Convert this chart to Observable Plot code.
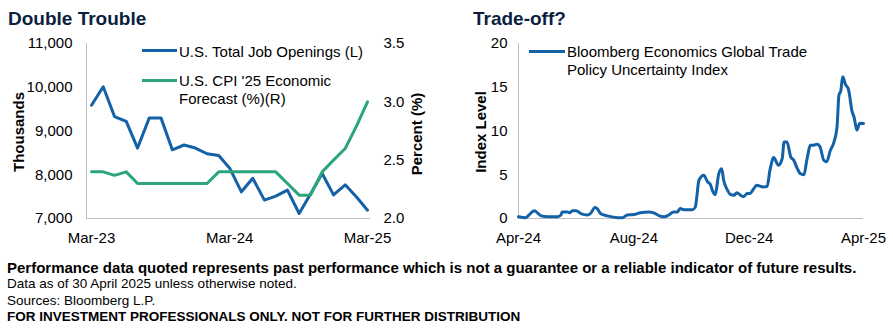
<!DOCTYPE html>
<html><head><meta charset="utf-8">
<script src="https://cdn.jsdelivr.net/npm/d3@7"></script>
<script src="https://cdn.jsdelivr.net/npm/@observablehq/plot@0.6"></script>
<style>
body{margin:0;background:#fff;}
#wrap{position:relative;width:893px;height:329px;overflow:hidden;font-family:"Liberation Sans",Arial,sans-serif;color:#000;background:#fff;}
.abs{position:absolute;white-space:nowrap;}
.title{font-size:19px;line-height:19px;font-weight:bold;color:#0c1f3f;}
.leg{font-size:15px;line-height:18px;}
.sw{position:absolute;height:3px;}
.foot{font-size:13.5px;line-height:16px;}
.chart{position:absolute;}
</style></head><body>
<div id="wrap">
  <div class="abs title" style="left:8px;top:9px;">Double Trouble</div>
  <div class="abs title" style="left:473px;top:9px;">Trade-off?</div>
  <div id="left" class="chart" style="left:0;top:30px;"></div>
  <div id="right" class="chart" style="left:440px;top:30px;"></div>
  <div class="sw" id="sw1" style="left:142px;top:48.5px;width:35px;"></div>
  <div class="abs leg" id="lg1" style="left:179px;top:43px;"></div>
  <div class="sw" id="sw2" style="left:142px;top:78.5px;width:35px;"></div>
  <div class="abs leg" id="lg2" style="left:179px;top:72px;"></div>
  <div class="sw" id="sw3" style="left:529px;top:50.2px;width:36px;"></div>
  <div class="abs leg" id="lg3" style="left:567px;top:42.5px;"></div>
  <div class="abs foot" style="left:7px;top:260px;font-weight:bold;font-size:15px;">Performance data quoted represents past performance which is not a guarantee or a reliable indicator of future results.</div>
  <div class="abs foot" style="left:7px;top:275.6px;">Data as of 30 April 2025 unless otherwise noted.</div>
  <div class="abs foot" style="left:7px;top:292.5px;">Sources: Bloomberg L.P.</div>
  <div class="abs foot" style="left:7px;top:309px;font-weight:bold;">FOR INVESTMENT PROFESSIONALS ONLY. NOT FOR FURTHER DISTRIBUTION</div>
</div>
<script>
// ---------- Data: left chart (monthly) ----------
const months = ["2023-03","2023-04","2023-05","2023-06","2023-07","2023-08","2023-09","2023-10","2023-11","2023-12",
  "2024-01","2024-02","2024-03","2024-04","2024-05","2024-06","2024-07","2024-08","2024-09","2024-10","2024-11","2024-12",
  "2025-01","2025-02","2025-03"];
const jobOpenings = [9590, 10010, 9330, 9220, 8610, 9300, 9300, 8570, 8680, 8610,
  8480, 8440, 8150, 7610, 7920, 7420, 7510, 7650, 7115, 7560, 8030, 7540,
  7770, 7480, 7190];
const cpiForecast = [2.4, 2.4, 2.37, 2.4, 2.3, 2.3, 2.3, 2.3, 2.3, 2.3,
  2.3, 2.4, 2.4, 2.4, 2.4, 2.4, 2.4, 2.3, 2.2, 2.2, 2.4, 2.5,
  2.6, 2.8, 3.0];
const leftTicks = [7000, 8000, 9000, 10000, 11000];
const rightTicks = [2.0, 2.5, 3.0, 3.5];
const leftXTicks = ["2023-03-01", "2024-03-01", "2025-03-01"];
const leftSeriesNames = ["U.S. Total Job Openings (L)", "U.S. CPI '25 Economic<br>Forecast (%)(R)"];

// ---------- Data: right chart ----------
const tpuDates = ["2024-04-30","2024-05-08","2024-05-11","2024-05-17","2024-05-20","2024-05-24","2024-05-31",
  "2024-06-10","2024-06-14","2024-06-15","2024-06-21","2024-06-23","2024-06-26","2024-06-30",
  "2024-07-05","2024-07-12","2024-07-15","2024-07-20","2024-07-22","2024-07-26",
  "2024-08-02","2024-08-13","2024-08-18","2024-08-23","2024-08-30",
  "2024-09-06","2024-09-15","2024-09-20","2024-09-26",
  "2024-10-01","2024-10-06","2024-10-11","2024-10-15","2024-10-18","2024-10-22","2024-10-31",
  "2024-11-03","2024-11-07","2024-11-12","2024-11-16","2024-11-19","2024-11-21","2024-11-24","2024-11-28",
  "2024-12-01","2024-12-03","2024-12-07","2024-12-10","2024-12-14","2024-12-17","2024-12-21","2024-12-24","2024-12-28","2024-12-31",
  "2025-01-04","2025-01-07","2025-01-14","2025-01-18","2025-01-21","2025-01-25","2025-01-30",
  "2025-02-03","2025-02-05","2025-02-08","2025-02-12","2025-02-15","2025-02-19","2025-02-22","2025-02-26",
  "2025-03-01","2025-03-05","2025-03-08","2025-03-12","2025-03-15","2025-03-19","2025-03-22","2025-03-26","2025-03-29",
  "2025-04-02","2025-04-04","2025-04-06","2025-04-08","2025-04-11","2025-04-14","2025-04-18","2025-04-20","2025-04-23","2025-04-26","2025-04-30"];
const tpuValues = [0.2, 0.1, 0.4, 0.9, 0.65, 0.3, 0.2,
  0.2, 0.4, 0.75, 0.75, 0.65, 0.9, 0.9,
  0.55, 0.4, 0.55, 1.25, 1.15, 0.55,
  0.3, 0.1, 0.1, 0.4, 0.45,
  0.65, 0.75, 0.65, 0.3,
  0.2, 0.4, 0.75, 0.75, 1.15, 1.0, 1.0,
  1.3, 4.4, 4.95, 4.2, 3.9, 3.25, 2.75, 5.15,
  5.7, 4.4, 3.25, 2.75, 2.65, 2.95, 2.65, 2.5, 2.85, 2.86,
  3.43, 3.8, 3.6, 3.65, 5.5, 6.97, 6.1,
  6.86, 8.75, 8.75, 7.05, 6.7, 5.7, 5.14, 5.0,
  6.66, 8.38, 8.38, 8.5, 8.2, 6.66, 6.5, 7.8, 8.5,
  10.47, 14.1, 14.6, 16.2, 15.3, 14.8, 12.2, 11.6, 10.1, 10.9, 10.85];
const tpuTicks = [0, 5, 10, 15, 20];
const rightXTicks = ["2024-04-30", "2024-08-30", "2024-12-30", "2025-04-30"];
const tpuName = "Bloomberg Economics Global Trade<br>Policy Uncertainty Index";

const BLUE = "#1361a7", GREEN = "#2ba57b", AXIS = "#bfbfbf";
const fmtMonth = d3.utcFormat("%b-%y");
const baseStyle = {fontFamily: "'Liberation Sans', Arial, sans-serif", fontSize: "15px", color: "#000", background: "transparent", overflow: "visible"};

// dual-axis mapping: right axis (2.0-3.5) onto left (7000-11000)
const toLeft = v => 7000 + (v - 2) * (4000 / 1.5);
const fromLeft = y => 2 + (y - 7000) * 1.5 / 4000;

const jobs = months.map((m, i) => ({date: new Date(m + "-01"), openings: jobOpenings[i], cpi: toLeft(cpiForecast[i])}));

const left = Plot.plot({
  width: 440, height: 215,
  marginTop: 13, marginBottom: 27, marginLeft: 86, marginRight: 70,
  style: baseStyle,
  x: {type: "utc", domain: [new Date("2023-03-01"), new Date("2025-03-01")], insetLeft: 5, insetRight: 3},
  y: {domain: [7000, 11000]},
  marks: [
    Plot.frame({anchor: "left", stroke: AXIS}),
    Plot.ruleY([7000], {stroke: AXIS}),
    Plot.axisX({ticks: leftXTicks.map(d => new Date(d)), tickFormat: fmtMonth, tickSize: 0, tickPadding: 14, label: null}),
    Plot.axisY({ticks: leftTicks, tickFormat: d3.format(","), tickSize: 0, tickPadding: 14, label: null}),
    Plot.axisY({anchor: "right", ticks: rightTicks.map(toLeft), tickFormat: d => fromLeft(d).toFixed(1), tickSize: 0, tickPadding: 13, label: null}),
    Plot.text(["Thousands"], {text: d => d, frameAnchor: "left", textAnchor: "middle", rotate: -90, dx: -67, dy: 1, fontWeight: "bold", fontSize: 15}),
    Plot.text(["Percent (%)"], {text: d => d, frameAnchor: "right", textAnchor: "middle", rotate: -90, dx: 47, dy: 3, fontWeight: "bold", fontSize: 15}),
    Plot.line(jobs, {x: "date", y: "openings", stroke: BLUE, strokeWidth: 3}),
    Plot.line(jobs, {x: "date", y: "cpi", stroke: GREEN, strokeWidth: 3})
  ]
});
document.getElementById("left").append(left);

const tpu = tpuDates.map((d, i) => ({date: new Date(d), value: tpuValues[i]}));
const right = Plot.plot({
  width: 453, height: 215,
  marginTop: 13, marginBottom: 27, marginLeft: 78, marginRight: 30,
  style: baseStyle,
  x: {type: "utc", domain: [new Date(rightXTicks[0]), new Date(rightXTicks[rightXTicks.length - 1])]},
  y: {domain: [0, 20]},
  marks: [
    Plot.frame({anchor: "left", stroke: AXIS}),
    Plot.ruleY([0], {stroke: AXIS}),
    Plot.axisX({ticks: rightXTicks.map(d => new Date(d)), tickFormat: fmtMonth, tickSize: 0, tickPadding: 14, label: null}),
    Plot.axisY({ticks: tpuTicks, tickSize: 0, tickPadding: 11, label: null}),
    Plot.text(["Index Level"], {text: d => d, frameAnchor: "left", textAnchor: "middle", rotate: -90, dx: -37, dy: 1, fontWeight: "bold", fontSize: 15}),
    Plot.line(tpu, {x: "date", y: "value", stroke: BLUE, strokeWidth: 3, curve: "monotone-x"})
  ]
});
document.getElementById("right").append(right);

// legends
document.getElementById("sw1").style.background = BLUE;
document.getElementById("sw2").style.background = GREEN;
document.getElementById("sw3").style.background = BLUE;
document.getElementById("lg1").innerHTML = leftSeriesNames[0];
document.getElementById("lg2").innerHTML = leftSeriesNames[1];
document.getElementById("lg3").innerHTML = tpuName;
</script>
</body></html>
